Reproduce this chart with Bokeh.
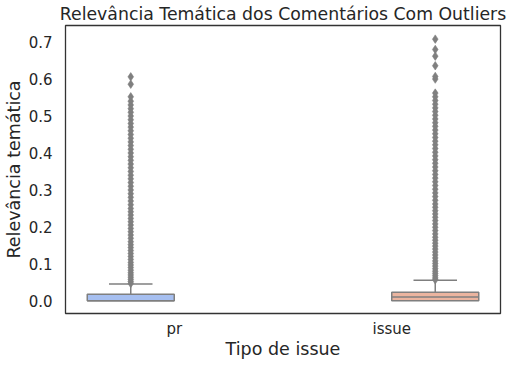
from bokeh.plotting import figure
from bokeh.models import Range1d, FixedTicker
from bokeh.embed import file_html
from bokeh.resources import INLINE

# ---- data ----
categories = ["pr", "issue"]
q1 = [0.0, 0.0]
median = [0.0, 0.0105]
q3 = [0.0178, 0.0235]
whisker_hi = [0.0455, 0.0555]
box_colors = ["#a6bff0", "#ebb49f"]

pr_outliers = [0.047, 0.052, 0.058, 0.064, 0.07, 0.076, 0.083, 0.09, 0.097, 0.104,
               0.112, 0.12, 0.128, 0.136, 0.144, 0.152, 0.16, 0.169, 0.178, 0.187,
               0.196, 0.205, 0.214, 0.223, 0.232, 0.241, 0.25, 0.26, 0.27, 0.28,
               0.29, 0.3, 0.31, 0.32, 0.33, 0.34, 0.35, 0.36, 0.37, 0.38,
               0.39, 0.4, 0.41, 0.42, 0.43, 0.44, 0.45, 0.46, 0.47, 0.48,
               0.49, 0.5, 0.51, 0.52, 0.53, 0.54, 0.552, 0.586, 0.606]
issue_outliers = [0.057, 0.062, 0.068, 0.074, 0.08, 0.087, 0.094, 0.101, 0.108, 0.116,
                  0.124, 0.132, 0.14, 0.148, 0.156, 0.164, 0.172, 0.181, 0.19, 0.199,
                  0.208, 0.217, 0.226, 0.235, 0.244, 0.253, 0.262, 0.272, 0.282, 0.292,
                  0.302, 0.312, 0.322, 0.332, 0.342, 0.352, 0.362, 0.372, 0.382, 0.392,
                  0.402, 0.412, 0.422, 0.432, 0.442, 0.452, 0.462, 0.472, 0.482, 0.492,
                  0.502, 0.512, 0.522, 0.532, 0.542, 0.552, 0.562, 0.6, 0.607, 0.636,
                  0.662, 0.68, 0.708]
outliers = [pr_outliers, issue_outliers]
y_ticks = [0.0, 0.1, 0.2, 0.3, 0.4, 0.5, 0.6, 0.7]

GRAY = "#7f7f7f"
TXT = "#262626"
FONT = "DejaVu Sans"

p = figure(width=509, height=361, output_backend="svg", toolbar_location=None,
           x_range=Range1d(-0.5, 1.5), y_range=Range1d(-0.0343, 0.7449),
           min_border_left=61, min_border_right=9, min_border_top=24, min_border_bottom=42,
           title="Relevância Temática dos Comentários Com Outliers")
p.grid.visible = False
p.outline_line_color = "#333333"
p.outline_line_width = 1.3
p.background_fill_color = "white"
p.border_fill_color = "white"

p.title.text_font = FONT
p.title.text_font_size = "17.3px"
p.title.text_font_style = "normal"
p.title.text_color = TXT
p.title.align = "center"
p.title.offset = -5
p.title.standoff = 3

box_width = 0.4
hue_offsets = [-0.2, 0.2]
for i, cat in enumerate(categories):
    xc = i + hue_offsets[i]
    p.quad(left=xc - box_width / 2, right=xc + box_width / 2, bottom=q1[i], top=q3[i],
           fill_color=box_colors[i], line_color=GRAY, line_width=1.5)
    p.segment(x0=xc - box_width / 2, x1=xc + box_width / 2, y0=median[i], y1=median[i],
              line_color=GRAY, line_width=1.5)
    p.segment(x0=xc, x1=xc, y0=q3[i], y1=whisker_hi[i], line_color=GRAY, line_width=1.5)
    p.segment(x0=xc - box_width / 4, x1=xc + box_width / 4, y0=whisker_hi[i], y1=whisker_hi[i],
              line_color=GRAY, line_width=1.5)
    p.scatter(x=[xc] * len(outliers[i]), y=outliers[i], marker="diamond", size=8.5,
              fill_color=GRAY, line_color=GRAY, line_width=0.6)

p.xaxis.ticker = FixedTicker(ticks=[0, 1])
p.xaxis.major_label_overrides = {0: categories[0], 1: categories[1]}
p.yaxis.ticker = FixedTicker(ticks=y_ticks)
p.yaxis.major_label_overrides = {t: f"{t:.1f}" for t in y_ticks}

for ax in (p.xaxis, p.yaxis):
    ax.axis_line_color = None
    ax.major_tick_line_color = None
    ax.minor_tick_line_color = None
    ax.major_tick_out = 0
    ax.major_tick_in = 0
    ax.minor_tick_out = 0
    ax.minor_tick_in = 0
    ax.major_label_text_font = FONT
    ax.major_label_text_font_size = "15px"
    ax.major_label_text_color = TXT
    ax.axis_label_text_font = FONT
    ax.axis_label_text_font_size = "17.5px"
    ax.axis_label_text_font_style = "normal"
    ax.axis_label_text_color = TXT

p.xaxis.axis_label = "Tipo de issue"
p.yaxis.axis_label = "Relevância temática"
p.xaxis.major_label_standoff = 6
p.xaxis.axis_label_standoff = -2
p.yaxis.major_label_standoff = 13
p.yaxis.axis_label_standoff = 2

open("out.html", "w").write(file_html(p, INLINE))
